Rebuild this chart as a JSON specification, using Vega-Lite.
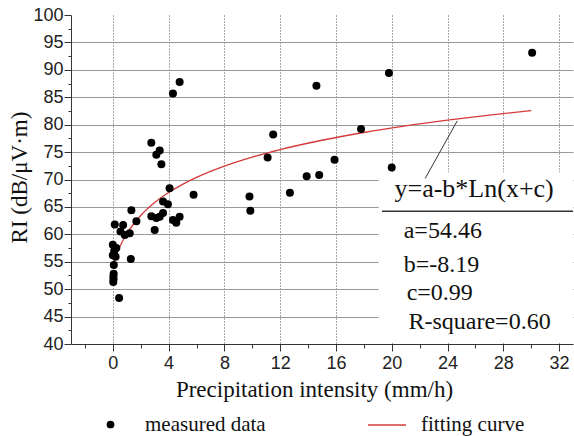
{
  "$schema": "https://vega.github.io/schema/vega-lite/v6.json",
  "width": 502,
  "height": 329,
  "autosize": "none",
  "padding": {"left": 71, "top": 15, "right": 1, "bottom": 92},
  "background": "white",
  "config": {"view": {"stroke": null}, "font": "Liberation Serif"},
  "datasets": {
    "measured": [
      {"x": 0.03, "y": 51.3, "series": "measured data"},
      {"x": 0.05, "y": 51.8, "series": "measured data"},
      {"x": 0.04, "y": 52.3, "series": "measured data"},
      {"x": 0.06, "y": 52.8, "series": "measured data"},
      {"x": 0.45, "y": 48.4, "series": "measured data"},
      {"x": 0.07, "y": 54.4, "series": "measured data"},
      {"x": 0.0, "y": 56.2, "series": "measured data"},
      {"x": 0.2, "y": 55.9, "series": "measured data"},
      {"x": 0.0, "y": 58.1, "series": "measured data"},
      {"x": 0.25, "y": 57.5, "series": "measured data"},
      {"x": 0.1, "y": 57.0, "series": "measured data"},
      {"x": 1.29, "y": 55.5, "series": "measured data"},
      {"x": 0.14, "y": 61.8, "series": "measured data"},
      {"x": 0.74, "y": 61.7, "series": "measured data"},
      {"x": 0.55, "y": 60.5, "series": "measured data"},
      {"x": 0.86, "y": 59.9, "series": "measured data"},
      {"x": 1.33, "y": 64.4, "series": "measured data"},
      {"x": 1.69, "y": 62.4, "series": "measured data"},
      {"x": 1.21, "y": 60.2, "series": "measured data"},
      {"x": 4.79, "y": 87.8, "series": "measured data"},
      {"x": 4.31, "y": 85.7, "series": "measured data"},
      {"x": 2.76, "y": 76.7, "series": "measured data"},
      {"x": 3.36, "y": 75.3, "series": "measured data"},
      {"x": 3.12, "y": 74.5, "series": "measured data"},
      {"x": 3.48, "y": 72.8, "series": "measured data"},
      {"x": 4.07, "y": 68.4, "series": "measured data"},
      {"x": 5.79, "y": 67.2, "series": "measured data"},
      {"x": 3.6, "y": 66.0, "series": "measured data"},
      {"x": 3.95, "y": 65.5, "series": "measured data"},
      {"x": 2.76, "y": 63.3, "series": "measured data"},
      {"x": 3.12, "y": 63.0, "series": "measured data"},
      {"x": 3.6, "y": 63.9, "series": "measured data"},
      {"x": 4.31, "y": 62.6, "series": "measured data"},
      {"x": 4.79, "y": 63.2, "series": "measured data"},
      {"x": 4.55, "y": 62.1, "series": "measured data"},
      {"x": 3.0, "y": 60.8, "series": "measured data"},
      {"x": 3.36, "y": 63.2, "series": "measured data"},
      {"x": 30.07, "y": 93.1, "series": "measured data"},
      {"x": 19.8, "y": 89.4, "series": "measured data"},
      {"x": 14.6, "y": 87.1, "series": "measured data"},
      {"x": 11.5, "y": 78.2, "series": "measured data"},
      {"x": 17.8, "y": 79.2, "series": "measured data"},
      {"x": 11.1, "y": 74.0, "series": "measured data"},
      {"x": 15.9, "y": 73.6, "series": "measured data"},
      {"x": 20.0, "y": 72.2, "series": "measured data"},
      {"x": 13.9, "y": 70.6, "series": "measured data"},
      {"x": 14.8, "y": 70.8, "series": "measured data"},
      {"x": 9.8, "y": 66.9, "series": "measured data"},
      {"x": 12.7, "y": 67.6, "series": "measured data"},
      {"x": 9.86, "y": 64.3, "series": "measured data"}
    ],
    "curve": [
      {"x": 0, "y": 54.38, "series": "fitting curve"},
      {"x": 0.25, "y": 56.22, "series": "fitting curve"},
      {"x": 0.5, "y": 57.73, "series": "fitting curve"},
      {"x": 1, "y": 60.10, "series": "fitting curve"},
      {"x": 1.5, "y": 61.93, "series": "fitting curve"},
      {"x": 2, "y": 63.43, "series": "fitting curve"},
      {"x": 3, "y": 65.79, "series": "fitting curve"},
      {"x": 4, "y": 67.62, "series": "fitting curve"},
      {"x": 5, "y": 69.12, "series": "fitting curve"},
      {"x": 6, "y": 70.39, "series": "fitting curve"},
      {"x": 8, "y": 72.45, "series": "fitting curve"},
      {"x": 10, "y": 74.09, "series": "fitting curve"},
      {"x": 12, "y": 75.46, "series": "fitting curve"},
      {"x": 15, "y": 77.16, "series": "fitting curve"},
      {"x": 18, "y": 78.57, "series": "fitting curve"},
      {"x": 21, "y": 79.77, "series": "fitting curve"},
      {"x": 24, "y": 80.82, "series": "fitting curve"},
      {"x": 27, "y": 81.75, "series": "fitting curve"},
      {"x": 30, "y": 82.58, "series": "fitting curve"}
    ],
    "box": [{"x1": 19.07, "x2": 33, "y1": 40.25, "y2": 71.3}],
    "leader": [{"x1": 24.7, "y1": 80.7, "x2": 22.4, "y2": 70.2}],
    "underline": [{"x1": 19.3, "x2": 33, "y": 64.2}],
    "eq": [{"x": 20.2, "y": 66.8, "label": "y=a-b*Ln(x+c)"}],
    "params": [
      {"x": 20.86, "y": 59.3, "label": "a=54.46"},
      {"x": 20.86, "y": 53.1, "label": "b=-8.19"},
      {"x": 21.07, "y": 48.0, "label": "c=0.99"},
      {"x": 21.2, "y": 42.7, "label": "R-square=0.60"}
    ]
  },
  "layer": [
    {
      "data": {"name": "box"},
      "mark": {"type": "rect", "fill": "white", "stroke": null},
      "encoding": {
        "x": {"field": "x1", "type": "quantitative", "scale": {"domain": [-3, 33], "nice": false, "zero": false},
          "axis": {"orient": "bottom", "values": [0, 4, 8, 12, 16, 20, 24, 28, 32], "grid": true, "gridColor": "#555555", "gridDash": [1, 2], "gridWidth": 1, "domain": false, "ticks": false, "labels": false, "title": null}},
        "x2": {"field": "x2"},
        "y": {"field": "y1", "type": "quantitative", "scale": {"domain": [40, 100], "nice": false, "zero": false},
          "axis": {"orient": "left", "values": [45, 50, 55, 60, 65, 70, 75, 80, 85, 90, 95], "grid": true, "gridColor": "#9a9a9a", "gridWidth": 1.2, "domain": false, "ticks": false, "labels": false, "title": null}},
        "y2": {"field": "y2"}
      }
    },
    {
      "data": {"name": "curve"},
      "mark": {"type": "line", "strokeWidth": 1.3, "interpolate": "monotone"},
      "encoding": {
        "x": {"field": "x", "type": "quantitative", "scale": {"domain": [-3, 33], "nice": false, "zero": false},
          "axis": {"orient": "bottom", "values": [-2, 2, 6, 10, 14, 18, 22, 26, 30], "grid": false, "domain": false, "labels": false, "tickSize": 4, "tickColor": "#333333", "title": null}},
        "y": {"field": "y", "type": "quantitative", "scale": {"domain": [40, 100], "nice": false, "zero": false},
          "axis": {"orient": "left", "values": [42.5, 47.5, 52.5, 57.5, 62.5, 67.5, 72.5, 77.5, 82.5, 87.5, 92.5, 97.5], "grid": false, "domain": false, "labels": false, "tickSize": 3, "tickColor": "#333333", "title": null}},
        "stroke": {"field": "series", "type": "nominal",
          "scale": {"domain": ["fitting curve"], "range": ["#d63a3a"]},
          "legend": {"title": null, "orient": "none", "legendX": 296, "legendY": 390, "padding": 0, "symbolType": "stroke", "symbolSize": 1444, "symbolStrokeWidth": 1.5, "labelFont": "Liberation Serif", "labelFontSize": 21, "labelColor": "#111111", "labelOffset": 14}}
      }
    },
    {
      "data": {"name": "measured"},
      "mark": {"type": "point", "filled": true, "size": 64, "opacity": 1, "shape": "circle"},
      "encoding": {
        "x": {"field": "x", "type": "quantitative", "scale": {"domain": [-3, 33], "nice": false, "zero": false},
          "axis": {"orient": "bottom", "values": [0, 4, 8, 12, 16, 20, 24, 28, 32], "grid": false, "domain": true, "domainColor": "#333333", "domainWidth": 1, "tickColor": "#333333", "tickSize": 7, "labelFont": "Liberation Sans", "labelFontSize": 18, "labelColor": "#222222", "labelPadding": 3,
            "title": "Precipitation intensity (mm/h)", "titleFont": "Liberation Serif", "titleFontSize": 23, "titleFontWeight": "normal", "titleColor": "#111111", "titlePadding": 6, "titleX": 243}},
        "y": {"field": "y", "type": "quantitative", "scale": {"domain": [40, 100], "nice": false, "zero": false},
          "axis": {"orient": "left", "values": [40, 45, 50, 55, 60, 65, 70, 75, 80, 85, 90, 95, 100], "grid": false, "domain": true, "domainColor": "#333333", "domainWidth": 1, "tickColor": "#333333", "tickSize": 7, "labelFont": "Liberation Sans", "labelFontSize": 18, "labelColor": "#222222", "labelPadding": 1,
            "title": "RI (dB/μV·m)", "titleFont": "Liberation Serif", "titleFontSize": 23, "titleFontWeight": "normal", "titleColor": "#111111", "titleAngle": 270, "titleAlign": "center", "titleBaseline": "middle", "titleX": -52, "titleY": 162}},
        "fill": {"field": "series", "type": "nominal",
          "scale": {"domain": ["measured data"], "range": ["#000000"]},
          "legend": {"title": null, "orient": "none", "legendX": 29, "legendY": 399, "padding": 0, "symbolType": "circle", "symbolSize": 60, "symbolStrokeWidth": 0, "labelFont": "Liberation Serif", "labelFontSize": 21, "labelColor": "#111111", "labelOffset": 24}}
      }
    },
    {
      "data": {"name": "leader"},
      "mark": {"type": "rule", "color": "#333333", "strokeWidth": 1},
      "encoding": {
        "x": {"field": "x1", "type": "quantitative", "scale": {"domain": [-3, 33], "nice": false, "zero": false}, "axis": null},
        "y": {"field": "y1", "type": "quantitative", "scale": {"domain": [40, 100], "nice": false, "zero": false}, "axis": null},
        "x2": {"field": "x2"},
        "y2": {"field": "y2"}
      }
    },
    {
      "data": {"name": "underline"},
      "mark": {"type": "rule", "color": "#333333", "strokeWidth": 1.5},
      "encoding": {
        "x": {"field": "x1", "type": "quantitative", "scale": {"domain": [-3, 33], "nice": false, "zero": false}, "axis": null},
        "x2": {"field": "x2"},
        "y": {"field": "y", "type": "quantitative", "scale": {"domain": [40, 100], "nice": false, "zero": false}, "axis": null}
      }
    },
    {
      "data": {"name": "eq"},
      "mark": {"type": "text", "align": "left", "baseline": "alphabetic", "font": "Liberation Serif", "fontSize": 26, "color": "#111111"},
      "encoding": {
        "x": {"field": "x", "type": "quantitative", "scale": {"domain": [-3, 33], "nice": false, "zero": false}, "axis": null},
        "y": {"field": "y", "type": "quantitative", "scale": {"domain": [40, 100], "nice": false, "zero": false}, "axis": null},
        "text": {"field": "label"}
      }
    },
    {
      "data": {"name": "params"},
      "mark": {"type": "text", "align": "left", "baseline": "alphabetic", "font": "Liberation Serif", "fontSize": 24, "color": "#111111"},
      "encoding": {
        "x": {"field": "x", "type": "quantitative", "scale": {"domain": [-3, 33], "nice": false, "zero": false}, "axis": null},
        "y": {"field": "y", "type": "quantitative", "scale": {"domain": [40, 100], "nice": false, "zero": false}, "axis": null},
        "text": {"field": "label"}
      }
    }
  ],
  "resolve": {"axis": {"x": "independent", "y": "independent"}}
}
